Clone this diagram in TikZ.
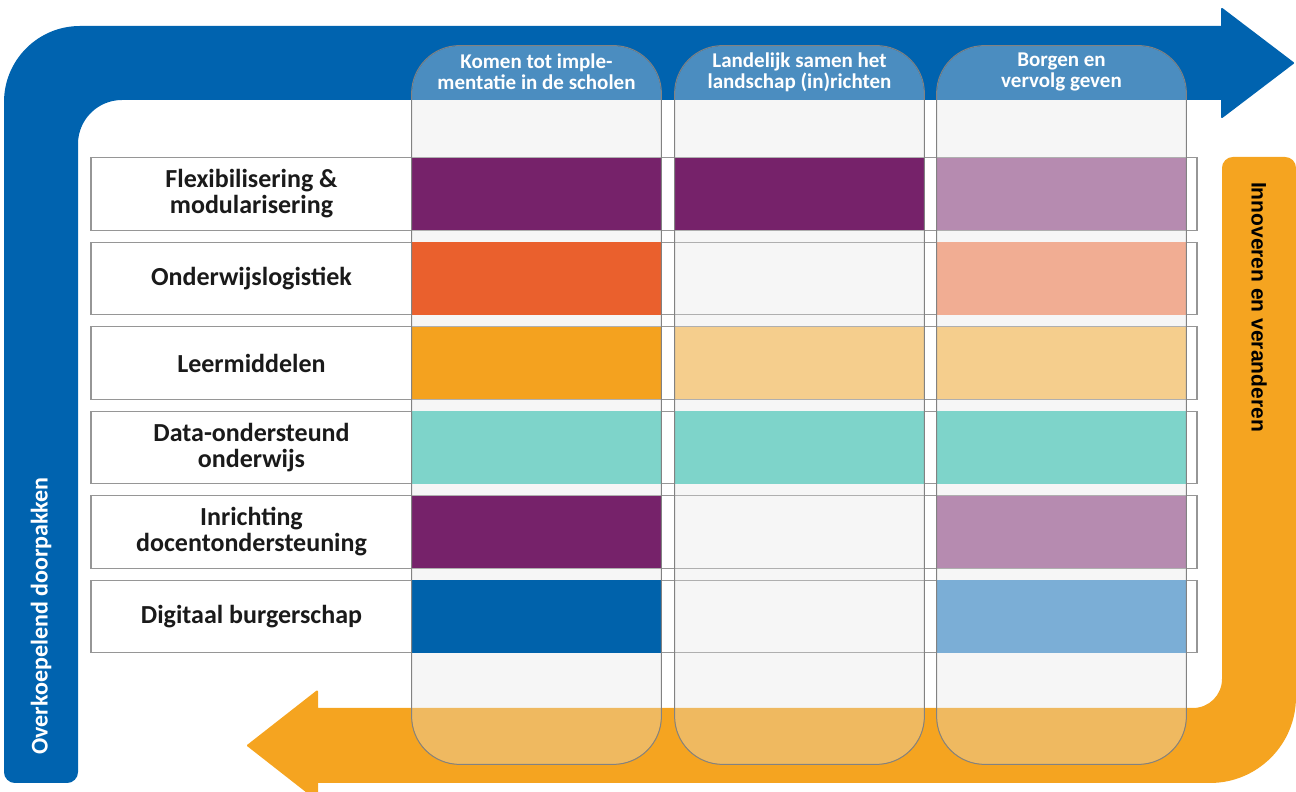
\documentclass[tikz,border=0pt]{standalone}
\usepackage{fontspec}
\setmainfont{Carlito}
\newfontfamily\arialfont{Liberation Sans}

\definecolor{arrowblue}{RGB}{0,99,175}
\definecolor{arroworange}{RGB}{245,164,32}
\definecolor{rowgrey}{RGB}{150,150,150}
\definecolor{colgrey}{RGB}{130,130,130}
\definecolor{colfill}{RGB}{228,228,228}
\definecolor{labeltext}{RGB}{26,26,26}
\definecolor{mpurple}{RGB}{118,34,106}
\definecolor{lpurple}{RGB}{182,139,176}
\definecolor{mred}{RGB}{234,96,45}
\definecolor{lred}{RGB}{241,173,147}
\definecolor{mamber}{RGB}{244,162,31}
\definecolor{lamber}{RGB}{245,206,141}
\definecolor{mteal}{RGB}{126,212,202}
\definecolor{mblue}{RGB}{0,98,171}
\definecolor{lblue}{RGB}{123,174,214}

\begin{document}
\begin{tikzpicture}[x=0.5pt,y=0.5pt,
    rowbox/.style={draw=rowgrey, line width=0.6pt, fill=white, minimum width=553pt, minimum height=36.25pt, inner sep=0pt},
    rowlabel/.style={font=\fontsize{13}{13}\selectfont\bfseries, text=labeltext, align=center},
    colbox/.style={rounded corners=24pt, minimum width=124.5pt, minimum height=359pt, inner sep=0pt},
    cellbox/.style={minimum width=124.5pt, minimum height=36.25pt, inner sep=0pt},
    headtext/.style={font=\fontsize{10.5}{10.5}\selectfont\bfseries, text=white, align=center},
  ]
  \useasboundingbox (0,0) rectangle (1296,792);

  % Blue arrow
  \filldraw[arrowblue, line width=1pt, line join=round]
    (5,20) -- (5,690) arc[start angle=180, end angle=90, radius=37.5pt]
    -- (1222,765) -- (1222,783) -- (1293,729) -- (1222,675) -- (1222,693)
    -- (122,693) arc[start angle=90, end angle=180, radius=22.5pt]
    -- (77,20) arc[start angle=0, end angle=-90, radius=5pt]
    -- (15,10) arc[start angle=270, end angle=180, radius=5pt] -- cycle;

  % Orange arrow
  \filldraw[arroworange, line width=1pt, line join=round]
    (1233,634) -- (1285,634) arc[start angle=90, end angle=0, radius=5pt]
    -- (1295,95) arc[start angle=0, end angle=-90, radius=42.5pt]
    -- (317,10) -- (317,-7.5) -- (248,46.5) -- (317,100.5) -- (317,83)
    -- (1193,83) arc[start angle=-90, end angle=0, radius=15pt]
    -- (1223,624) arc[start angle=180, end angle=90, radius=5pt] -- cycle;

  % Row boxes
  \node[rowbox] (r1) at (644,598) {};
  \node[rowbox] (r2) at (644,513.5) {};
  \node[rowbox] (r3) at (644,429) {};
  \node[rowbox] (r4) at (644,344.5) {};
  \node[rowbox] (r5) at (644,260) {};
  \node[rowbox] (r6) at (644,175.5) {};

  % Columns
  \node[colbox, fill=colfill, fill opacity=.33] (k1) at (536.5,387) {};
  \node[colbox, fill=colfill, fill opacity=.33] (k2) at (799.5,387) {};
  \node[colbox, fill=colfill, fill opacity=.33] (k3) at (1061.5,387) {};

  % Cells, first row
  \node[cellbox, fill=mpurple] (c11) at (536.5,598) {};
  \node[cellbox, fill=mpurple] (c12) at (799.5,598) {};
  \node[cellbox, fill=lpurple] (c13) at (1061.5,598) {};

  % Cells, second row
  \node[cellbox, fill=mred] (c21) at (536.5,513.5) {};
  \node[cellbox, fill=lred] (c23) at (1061.5,513.5) {};

  % Cells, third row
  \node[cellbox, fill=mamber] (c31) at (536.5,429) {};
  \node[cellbox, fill=lamber] (c32) at (799.5,429) {};
  \node[cellbox, fill=lamber] (c33) at (1061.5,429) {};

  % Cells, fourth row
  \node[cellbox, fill=mteal] (c41) at (536.5,344.5) {};
  \node[cellbox, fill=mteal] (c42) at (799.5,344.5) {};
  \node[cellbox, fill=mteal] (c43) at (1061.5,344.5) {};

  % Cells, fifth row
  \node[cellbox, fill=mpurple] (c51) at (536.5,260) {};
  \node[cellbox, fill=lpurple] (c53) at (1061.5,260) {};

  % Cells, sixth row
  \node[cellbox, fill=mblue] (c61) at (536.5,175.5) {};
  \node[cellbox, fill=lblue] (c63) at (1061.5,175.5) {};

  % Column outlines
  \draw[colgrey, line width=0.5pt, rounded corners=24pt] (k1.south west) rectangle (k1.north east);
  \draw[colgrey, line width=0.5pt, rounded corners=24pt] (k2.south west) rectangle (k2.north east);
  \draw[colgrey, line width=0.5pt, rounded corners=24pt] (k3.south west) rectangle (k3.north east);

  % Column headers
  \node[headtext] (h1) at (536.5,720) {Komen tot imple-\\mentatie in de scholen};
  \node[headtext] (h2) at (799.5,720) {Landelijk samen het\\landschap (in)richten};
  \node[headtext] (h3) at (1061.5,720) {Borgen en\\vervolg geven};

  % Row labels
  \node[rowlabel] (l1) at (251.5,598) {Flexibilisering \&\\modularisering};
  \node[rowlabel] (l2) at (251.5,513.5) {Onderwijslogistiek};
  \node[rowlabel] (l3) at (251.5,429) {Leermiddelen};
  \node[rowlabel] (l4) at (251.5,344.5) {Data-ondersteund\\onderwijs};
  \node[rowlabel] (l5) at (251.5,260) {Inrichting\\docentondersteuning};
  \node[rowlabel] (l6) at (251.5,175.5) {Digitaal burgerschap};

  % Side texts
  \node[rotate=90, text=white, font=\fontsize{12}{13}\selectfont\bfseries] (over) at (41,176) {Overkoepelend doorpakken};
  \node[rotate=-90, text=black, font=\arialfont\fontsize{10.5}{12}\selectfont\bfseries] (inno) at (1259,485) {Innoveren en veranderen};
\end{tikzpicture}
\end{document}
